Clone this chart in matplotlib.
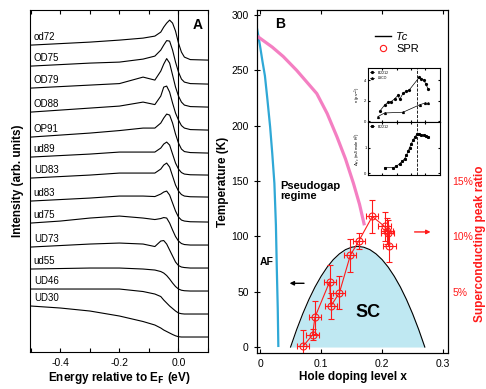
import matplotlib
matplotlib.use("Agg")
import matplotlib.pyplot as plt
from matplotlib.lines import Line2D

plt.rcParams["font.family"] = ["Liberation Sans", "DejaVu Sans"]
plt.rcParams["axes.unicode_minus"] = False

# ---- panel A: EDC spectra (intensity offsets above each curve's flat level)
energy = [-0.50, -0.40, -0.30, -0.20, -0.12, -0.08, -0.06, -0.05, -0.04,
          -0.03, -0.02, -0.01, 0.00, 0.01, 0.02, 0.04, 0.10]

spec_od72 = [15, 16.5, 18, 20, 22, 24, 28, 33, 37, 40, 37, 29, 17, 8, 3, 0.5, 0]
spec_OD75 = [18, 19.5, 21, 22, 25, 28, 34, 39, 43.5, 43, 34, 22, 12, 5, 2, 0.5, 0]
spec_OD79 = [19, 20.5, 22, 23.5, 30, 27, 36, 43, 48.5, 44, 32, 20, 11, 5, 2, 0.5, 0]
spec_OD88 = [18, 20, 22, 24, 28, 25.5, 34, 43, 44, 38, 27, 17, 10, 4.5, 2, 0.5, 0]
spec_OP91 = [16, 18, 20, 22.5, 25, 25, 30, 35, 39, 38, 30, 19, 10, 4, 1.5, 0.5, 0]
spec_ud89 = [18, 19.5, 21, 23, 23, 23, 27, 31, 33, 30, 21, 12, 6, 2.5, 1, 0.3, 0]
spec_UD83 = [19, 20.5, 22, 24, 24, 24, 28, 32, 34, 30, 21, 12, 6, 2.5, 1, 0.3, 0]
spec_ud83 = [21, 22.5, 24, 26, 26, 25.5, 28, 30, 31, 27, 19, 11, 5, 2, 1, 0.3, 0]
spec_ud75 = [22, 24, 27, 29, 27, 25.5, 26.5, 27.5, 27, 22, 15, 8.5, 4, 1.5, 0.5, 0, 0]
spec_UD73 = [21, 22.5, 24, 25, 24, 21.5, 27, 27.5, 24, 18, 12, 6, 2.5, 1, 0.5, 0, 0]
spec_ud55 = [22, 22.5, 23, 23, 22, 21, 19.5, 18, 15.5, 12, 8, 4.5, 2, 0.8, 0.3, 0, 0]
spec_UD46 = [25, 25, 25, 25, 22.5, 20, 17.5, 14, 11, 8, 5.5, 3, 1, 0.3, 0, 0, 0]
spec_UD30 = [31, 29, 26, 21, 15.5, 12, 9, 7, 5.5, 4, 2.5, 1.2, 0.3, 0, 0, 0, 0]

spec_labels = ["od72", "OD75", "OD79", "OD88", "OP91", "ud89", "UD83",
               "ud83", "ud75", "UD73", "ud55", "UD46", "UD30"]
spec_levels = [292, 268, 245, 222, 199, 177, 155, 130, 107, 84, 61, 38, 15]
spectra = [spec_od72, spec_OD75, spec_OD79, spec_OD88, spec_OP91, spec_ud89,
           spec_UD83, spec_ud83, spec_ud75, spec_UD73, spec_ud55, spec_UD46,
           spec_UD30]

# ---- panel B: phase diagram
af_x = [-0.005, 0.0, 0.004, 0.008, 0.012, 0.0165, 0.020, 0.0235, 0.026,
        0.0275, 0.029, 0.030]
af_T = [288, 272, 258, 245, 224, 199, 175, 148, 110, 70, 35, 0]

pg_x = [-0.005, 0.02, 0.038, 0.06, 0.093, 0.11, 0.126, 0.14, 0.153, 0.163, 0.171]
pg_T = [281, 271, 262.5, 250, 229, 211, 190, 170, 148, 129, 110]

dome_x = [0.05, 0.06, 0.07, 0.08, 0.09, 0.10, 0.11, 0.12, 0.13, 0.14, 0.15, 0.16,
          0.17, 0.18, 0.19, 0.20, 0.21, 0.22, 0.23, 0.24, 0.25, 0.26, 0.27]
dome_T = [0, 15.8, 30.1, 42.9, 54.2, 63.9, 72.2, 79.0, 84.2, 88.0, 90.2, 91.0,
          90.2, 88.0, 84.2, 79.0, 72.2, 63.9, 54.2, 42.9, 30.1, 15.8, 0]

spr_x = [0.071, 0.086, 0.090, 0.114, 0.116, 0.130, 0.148, 0.162, 0.184,
         0.204, 0.208, 0.209, 0.212]
spr_val = [0.1, 1.1, 2.7, 5.9, 3.7, 4.9, 8.3, 9.6, 11.8, 10.9, 10.5, 10.3, 9.1]
spr_yerr = [1.4, 0.5, 1.5, 1.5, 1.2, 1.5, 1.5, 0.7, 1.5, 1.3, 1.2, 1.2, 1.4]
spr_xerr = 0.01

# ---- inset data
ins_x1 = [0.043, 0.058, 0.070, 0.081, 0.093, 0.105, 0.110, 0.122, 0.134, 0.143,
          0.178, 0.186, 0.195, 0.201, 0.209]
ins_y1 = [1.04, 1.57, 1.84, 1.91, 2.19, 2.54, 2.12, 2.71, 2.96, 3.03,
          4.28, 4.17, 4.0, 3.65, 3.17]
ins_x2 = [0.035, 0.058, 0.122, 0.180, 0.198, 0.209]
ins_y2 = [0.45, 0.80, 0.87, 1.60, 1.77, 1.74]
ins_x3 = [0.058, 0.087, 0.099, 0.110, 0.120, 0.128, 0.134, 0.140, 0.145, 0.151,
          0.157, 0.163, 0.171, 0.178, 0.186, 0.195, 0.203, 0.209]
ins_y3 = [0.21, 0.21, 0.26, 0.37, 0.47, 0.57, 0.70, 0.87, 1.0, 1.16,
          1.29, 1.42, 1.53, 1.53, 1.49, 1.49, 1.45, 1.42]

red = "#ff1a1a"

fig = plt.figure(figsize=(4.86, 3.89), dpi=100)

# ================= panel A =================
axA = fig.add_axes([0.0617, 0.0951, 0.3663, 0.8789])
for lab, lev, spec in zip(spec_labels, spec_levels, spectra):
    axA.plot(energy, [lev + v for v in spec], color="black", lw=0.8)
    axA.text(-0.49, lev + spec[0] + 8, lab, fontsize=7, va="center", ha="left")
axA.axvline(0.0, color="black", lw=0.8)
axA.set_xlim(-0.503, 0.10)
axA.set_ylim(0, 342)
axA.set_yticks([])
axA.set_xticks([-0.5, -0.4, -0.3, -0.2, -0.1, 0.0, 0.1])
axA.set_xticklabels(["", "-0.4", "", "-0.2", "", "0.0", ""])
axA.tick_params(axis="x", direction="in", top=True, length=3, labelsize=7.5, pad=4)
axA.set_xlabel("Energy relative to E$_\\mathbf{F}$ (eV)", fontsize=8.5,
               fontweight="bold", labelpad=2)
axA.set_ylabel("Intensity (arb. units)", fontsize=8.5, fontweight="bold", labelpad=4)
axA.text(0.94, 0.955, "A", transform=axA.transAxes, fontsize=10,
         fontweight="bold", ha="center", va="center")

# ================= panel B =================
axB = fig.add_axes([0.5288, 0.0925, 0.3930, 0.8817])
axB.fill_between(dome_x, dome_T, 0, color="#bfe8f2", lw=0)
axB.plot(dome_x, dome_T, color="black", lw=0.8)
axB.plot(af_x, af_T, color="#2fa8d6", lw=1.6, solid_capstyle="butt")
axB.plot(pg_x, pg_T, color="#f47fc2", lw=2.3, solid_capstyle="butt")

axB.set_xlim(-0.005, 0.308)
axB.set_ylim(-5.4, 304.5)
axB.set_xticks([0, 0.1, 0.2, 0.3])
axB.set_xticklabels(["0", "0.1", "0.2", "0.3"])
axB.set_yticks([0, 50, 100, 150, 200, 250, 300])
axB.tick_params(axis="x", direction="in", top=True, length=3, labelsize=7.5, pad=4)
axB.tick_params(axis="y", direction="inout", right=True, length=5, labelsize=7.5)
axB.set_xlabel("Hole doping level x", fontsize=8.5, fontweight="bold", labelpad=2)
axB.set_ylabel("Temperature (K)", fontsize=8.5, fontweight="bold", labelpad=2)

axB.text(0.0246, 292, "B", fontsize=10, fontweight="bold", va="center")
axB.text(0.033, 141, "Pseudogap\nregime", fontsize=8, fontweight="bold",
         va="center", linespacing=1.05)
axB.text(0.0, 77, "AF", fontsize=7.5, fontweight="bold", va="center")
axB.text(0.177, 31, "SC", fontsize=13, fontweight="bold", ha="center", va="center")
axB.annotate("", xy=(0.0438, 57.6), xytext=(0.0766, 57.6),
             arrowprops=dict(arrowstyle="-|>", color="black", lw=1.0,
                             mutation_scale=6))
axB.annotate("", xy=(0.284, 104), xytext=(0.2487, 104),
             arrowprops=dict(arrowstyle="-|>", color=red, lw=1.0,
                             mutation_scale=6))

handles = [Line2D([], [], color="black", lw=1.0),
           Line2D([], [], color=red, marker="o", mfc="none", ls="none",
                  markersize=4.5, mew=0.8)]
leg = axB.legend(handles, ["Tc", "SPR"], loc="upper right",
                 bbox_to_anchor=(0.9, 0.965), frameon=False, fontsize=8,
                 handlelength=1.4, handletextpad=0.5, labelspacing=0.15)
leg.get_texts()[0].set_style("italic")

# right axis: SPR in percent
ax2 = axB.twinx()
ax2.set_ylim(-0.54, 30.45)
ax2.errorbar(spr_x, spr_val, xerr=spr_xerr, yerr=spr_yerr, color=red,
             marker="o", mfc="none", mec=red, markersize=5, mew=0.8,
             lw=0.8, elinewidth=0.8, capsize=2, capthick=0.8)
ax2.set_yticks([5, 10, 15])
ax2.set_yticklabels(["5%", "10%", "15%"])
ax2.tick_params(axis="y", length=0, labelsize=7.5, labelcolor=red, pad=3)
ax2.set_ylabel("Superconducting peak ratio", fontsize=8.5, fontweight="bold",
               color=red)
ax2.yaxis.set_label_coords(1.135, 0.32)

# ================= inset =================
in1 = fig.add_axes([0.757, 0.686, 0.148, 0.139])
in1.plot(ins_x1, ins_y1, color="black", lw=0.5, marker="o", markersize=1.3)
in1.plot(ins_x2, ins_y2, color="black", lw=0.5, marker="^", markersize=1.3)
in1.axvline(0.171, color="black", lw=0.6, ls="--")
in1.set_xlim(0, 0.25)
in1.set_ylim(-0.1, 5.2)
in1.set_yticks([0, 2, 4])
in1.set_xticks([0.05, 0.1, 0.15, 0.2])
in1.set_xticklabels([])
in1.tick_params(direction="in", length=1.5, labelsize=3, pad=1, top=True, right=True)
in1.set_ylabel("n (ps$^{-1}$)", fontsize=3, labelpad=1)
in1.legend(["Bi2212", "LSCO"], loc="upper left", frameon=False, fontsize=2.5,
           handlelength=1.2, borderaxespad=0.3)

in2 = fig.add_axes([0.757, 0.550, 0.148, 0.136])
in2.plot(ins_x3, ins_y3, color="black", lw=0.5, marker="s", markersize=1.2)
in2.axvline(0.171, color="black", lw=0.6, ls="--")
in2.set_xlim(0, 0.25)
in2.set_ylim(-0.08, 2.0)
in2.set_yticks([0, 1])
in2.set_xticks([0.05, 0.1, 0.15, 0.2])
in2.set_xticklabels([])
in2.tick_params(direction="in", length=1.5, labelsize=3, pad=1, top=True, right=True)
in2.set_ylabel("$\\Delta\\gamma_c$ (mJ/mole K$^2$)", fontsize=3, labelpad=1)
in2.legend(["Bi2212"], loc="upper left", frameon=False, fontsize=2.5,
           handlelength=1.2, borderaxespad=0.3)

fig.savefig("out.png", dpi=100)
